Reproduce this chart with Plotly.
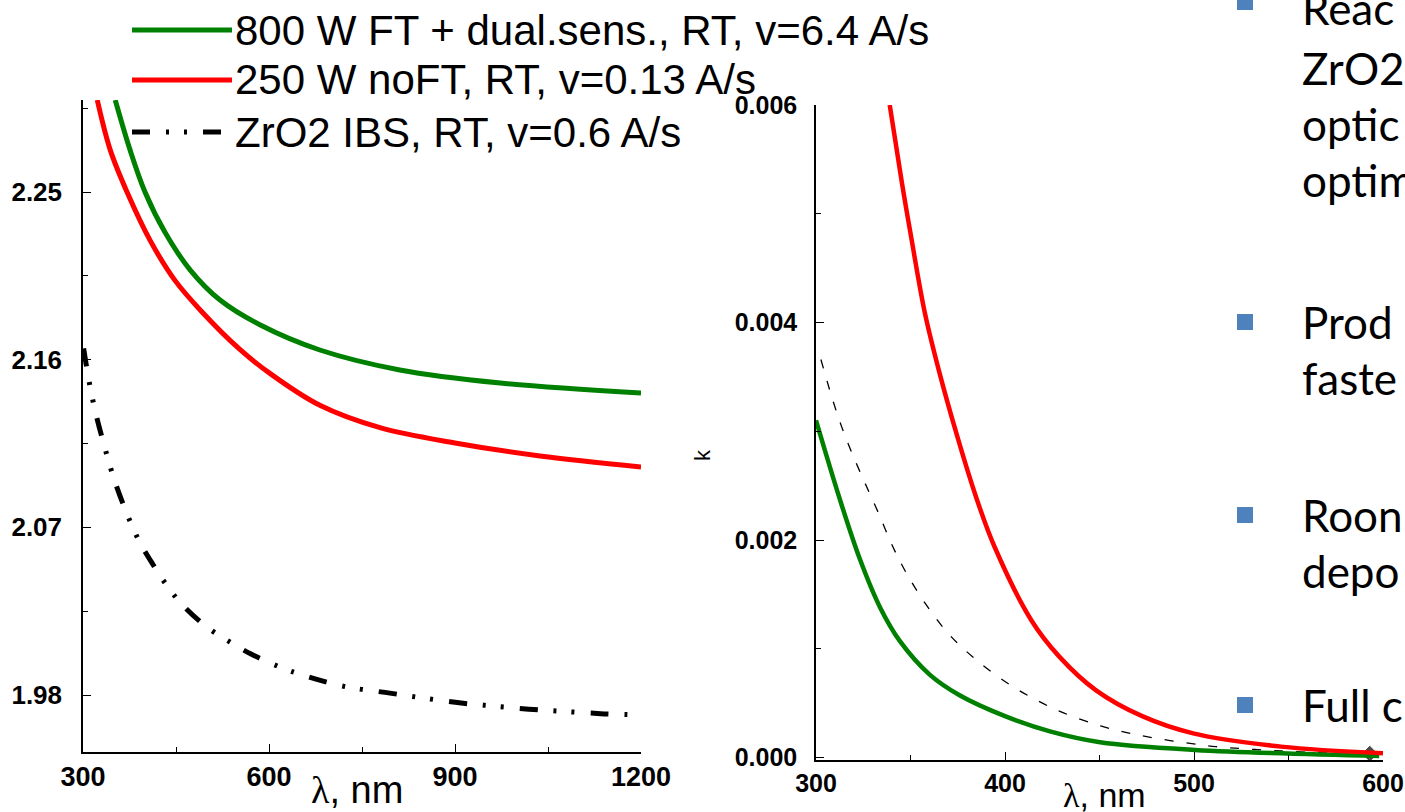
import plotly.graph_objects as go

# ---------------- data ----------------
# Left panel: refractive index n vs wavelength (nm)
lam_n_green = [352, 376, 400, 432, 473, 521, 586, 682, 811, 973, 1200]
n_green = [2.2994, 2.2725, 2.2500, 2.2285, 2.2081, 2.1920, 2.1786, 2.1652, 2.1545, 2.1475, 2.1421]

lam_n_red = [323, 344, 371, 408, 448, 489, 553, 602, 682, 779, 900, 1037, 1200]
n_red = [2.2994, 2.2725, 2.2500, 2.2242, 2.2027, 2.1867, 2.1655, 2.1525, 2.1355, 2.1235, 2.1153, 2.1083, 2.1024]

lam_n_ibs = [301, 310, 320, 335, 350, 370, 390, 412, 437, 460, 499, 542, 571, 614, 654,
             723, 795, 846, 907, 947, 1019, 1070, 1135, 1190]
n_ibs = [2.166, 2.148, 2.132, 2.113, 2.096, 2.078, 2.063, 2.0505, 2.038, 2.0285, 2.0167,
         2.0074, 2.002, 1.9955, 1.9907, 1.9845, 1.981, 1.9785, 1.9758, 1.9745, 1.9724,
         1.9713, 1.9700, 1.9694]

# Right panel: extinction coefficient k vs wavelength (nm)
lam_k_green = [300, 312.7, 323.3, 333.9, 344.4, 360.3, 376.2, 400, 423.8, 450.3, 500.5, 598]
k_green = [0.0031, 0.00237, 0.00182, 0.00138, 0.00107, 0.00076, 0.00057, 0.00038,
           0.00024, 0.00014, 0.00007, 0.000014]

lam_k_red = [339, 345.5, 350.4, 357.7, 365, 374.8, 384.6, 394.4, 414, 428.6, 448,
             472.6, 499.6, 546, 600]
k_red = [0.006, 0.00528, 0.00478, 0.00408, 0.00356, 0.00295, 0.0024, 0.00194,
         0.00126, 0.00093, 0.00062, 0.00038, 0.000222, 0.0001, 0.00004]

lam_k_ibs = [302.6, 308.8, 313.6, 319, 326, 333, 340.6, 348, 357.7, 370, 384.6, 401.6,
             416.4, 431, 450.6, 465, 480, 497, 511.6, 546, 575, 593]
k_ibs = [0.00366, 0.00329, 0.00304, 0.0028, 0.00252, 0.00225, 0.00194, 0.00169, 0.00142,
         0.00114, 0.0009, 0.00068, 0.00053, 0.00041, 0.00029, 0.000227, 0.000176, 0.000132,
         0.0001, 0.00006, 0.00004, 0.000035]

legend_labels = ["800 W FT + dual.sens., RT, v=6.4 A/s",
                 "250 W noFT, RT, v=0.13 A/s",
                 "ZrO2 IBS, RT, v=0.6 A/s"]

n_ticks = [1.98, 2.07, 2.16, 2.25]
n_tick_text = ["1.98", "2.07", "2.16", "2.25"]
lam_ticks_left = [300, 600, 900, 1200]
k_ticks = [0.0, 0.002, 0.004, 0.006]
k_tick_text = ["0.000", "0.002", "0.004", "0.006"]
lam_ticks_right = [300, 400, 500, 600]

bullet_groups = [
    ["Reac", "ZrO2", "optic", "optim"],
    ["Prod", "faste"],
    ["Roon", "depo"],
    ["Full c"],
]

# ---------------- styles ----------------
W, H = 1405, 812
GREEN = "#008000"
RED = "#FF0000"
BLACK = "#000000"
IBS_DASH = "18px,16px,3px,15px,3px,16px"


def px(x):
    return x / W


def py(y):
    return 1 - y / H


fig = go.Figure()

# left panel traces
fig.add_trace(go.Scatter(x=lam_n_green, y=n_green, mode="lines", line=dict(color=GREEN, width=5, shape="spline"),
                         xaxis="x", yaxis="y", showlegend=False))
fig.add_trace(go.Scatter(x=lam_n_red, y=n_red, mode="lines", line=dict(color=RED, width=5, shape="spline"),
                         xaxis="x", yaxis="y", showlegend=False))
fig.add_trace(go.Scatter(x=lam_n_ibs, y=n_ibs, mode="lines",
                         line=dict(color=BLACK, width=5, shape="spline", dash=IBS_DASH),
                         xaxis="x", yaxis="y", showlegend=False))

# right panel traces
fig.add_trace(go.Scatter(x=lam_k_ibs, y=k_ibs, mode="lines+markers",
                         line=dict(color=BLACK, width=1.3, shape="spline", dash="9px,13px"),
                         marker=dict(symbol="diamond", color=BLACK,
                                     size=[0] * (len(k_ibs) - 1) + [13]),
                         xaxis="x2", yaxis="y2", showlegend=False))
fig.add_trace(go.Scatter(x=lam_k_green, y=k_green, mode="lines", line=dict(color=GREEN, width=4.5, shape="spline"),
                         xaxis="x2", yaxis="y2", showlegend=False))
fig.add_trace(go.Scatter(x=lam_k_red, y=k_red, mode="lines", line=dict(color=RED, width=4.5, shape="spline"),
                         xaxis="x2", yaxis="y2", showlegend=False))

bold_font = dict(family="Liberation Sans, Arial, sans-serif", size=26, color="black", weight="bold")
bold_font_x = dict(family="Liberation Sans, Arial, sans-serif", size=27, color="black", weight="bold")
narrow_font = dict(family="Liberation Sans Narrow, Liberation Sans, Arial, sans-serif", size=25,
                   color="black", weight="bold")

axis_common = dict(showline=True, linecolor="black", linewidth=1.5, showgrid=False, zeroline=False,
                   ticks="inside", ticklen=8, tickwidth=1.3, tickcolor="black", mirror=False,
                   automargin=False)

fig.update_layout(
    template="none",
    width=W, height=H, autosize=False,
    margin=dict(l=0, r=0, t=0, b=0, pad=0),
    paper_bgcolor="white", plot_bgcolor="white",
    xaxis=dict(domain=[px(83), px(641)], range=[300, 1200], anchor="y",
               tickvals=lam_ticks_left, tickfont=bold_font_x, ticklabelstandoff=0,
               minor=dict(ticks="inside", ticklen=5, tickwidth=1.2, tickcolor="black", dtick=150, tick0=300),
               **axis_common),
    yaxis=dict(domain=[py(752), py(100)], range=[1.9494, 2.2994], anchor="x",
               tickvals=n_ticks, ticktext=n_tick_text, tickfont=bold_font, ticklabelstandoff=14,
               minor=dict(ticks="inside", ticklen=5, tickwidth=1.2, tickcolor="black", dtick=0.045, tick0=1.98),
               **axis_common),
    xaxis2=dict(domain=[px(816), px(1383)], range=[300, 600], anchor="y2",
                tickvals=lam_ticks_right, tickfont=narrow_font, ticklabelstandoff=0,
                minor=dict(ticks="inside", ticklen=5, tickwidth=1.2, tickcolor="black", dtick=50, tick0=300),
                **axis_common),
    yaxis2=dict(domain=[py(760), py(105)], range=[-0.000023, 0.006], anchor="x2",
                tickvals=k_ticks, ticktext=k_tick_text, tickfont=narrow_font, ticklabelstandoff=12,
                minor=dict(ticks="inside", ticklen=5, tickwidth=1.2, tickcolor="black", dtick=0.001, tick0=0),
                **axis_common),
)

shapes = []
annotations = []

# manual legend (line samples + labels)
legend_rows = [30, 80, 132]
legend_styles = [dict(color=GREEN, width=5), dict(color=RED, width=5), dict(color=BLACK, width=5, dash=IBS_DASH)]
for label, yrow, st in zip(legend_labels, legend_rows, legend_styles):
    shapes.append(dict(type="line", xref="paper", yref="paper", x0=px(132), x1=px(232),
                       y0=py(yrow), y1=py(yrow), line=st))
    annotations.append(dict(text=label, xref="paper", yref="paper", x=px(233), y=py(yrow),
                            xanchor="left", yanchor="middle", showarrow=False,
                            font=dict(family="Liberation Sans, Arial, sans-serif", size=42, color="black")))

# axis titles
annotations.append(dict(text="<span style='font-family:Liberation Serif'>λ</span>, nm",
                        xref="paper", yref="paper", x=px(357), y=py(790),
                        xanchor="center", yanchor="middle", showarrow=False,
                        font=dict(family="Liberation Sans, Arial, sans-serif", size=38, color="black")))
annotations.append(dict(text="<span style='font-family:Liberation Serif'>λ</span>, nm",
                        xref="paper", yref="paper", x=px(1104), y=py(795),
                        xanchor="center", yanchor="middle", showarrow=False,
                        font=dict(family="Liberation Sans Narrow, Liberation Sans, Arial, sans-serif",
                                  size=34, color="black")))
annotations.append(dict(text="k", xref="paper", yref="paper", x=px(703), y=py(455),
                        xanchor="center", yanchor="middle", showarrow=False, textangle=-90,
                        font=dict(family="Liberation Sans, Arial, sans-serif", size=22, color="black")))

# slide bullet text (cut by the right edge)
bullet_centers = [2, 322, 515, 705]
line_centers = [[8, 68, 124, 180], [322, 378], [515, 571], [705]]
for lines, yb, ys in zip(bullet_groups, bullet_centers, line_centers):
    shapes.append(dict(type="rect", xref="paper", yref="paper", x0=px(1237), x1=px(1253),
                       y0=py(yb - 8), y1=py(yb + 8), fillcolor="#4F81BD", line=dict(width=0)))
    for t, yl in zip(lines, ys):
        annotations.append(dict(text=t, xref="paper", yref="paper", x=px(1300), y=py(yl),
                                xanchor="left", yanchor="middle", showarrow=False,
                                font=dict(family="Lato, Open Sans, sans-serif", size=44, color="black")))

fig.update_layout(shapes=shapes, annotations=annotations)

fig.write_html("out.html",
               config={"displayModeBar": False},
               post_script="document.body.style.margin='0px';document.body.style.overflow='hidden';")
